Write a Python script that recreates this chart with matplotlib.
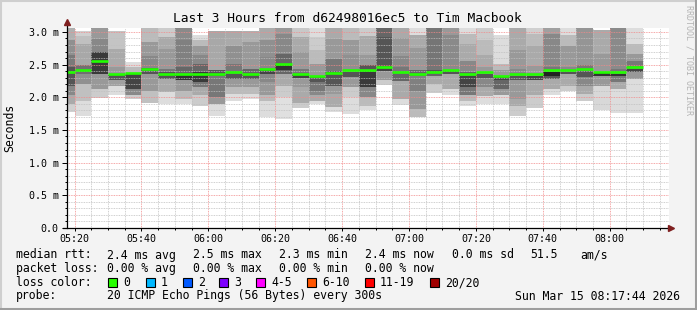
import matplotlib
matplotlib.use("Agg")
import matplotlib.pyplot as plt
import numpy as np
from matplotlib.patches import Rectangle
from matplotlib.lines import Line2D

plt.rcParams['font.family'] = 'DejaVu Sans Mono'

W, H = 697, 310

# time in minutes after 05:00, window 05:17:44 .. 08:17:44
t_start = 17 + 44 / 60
t_stop = t_start + 180
step = 5
bar_end = np.arange(20, 191, step)   # samples 05:20 .. 08:10

medians = [2.39, 2.42, 2.55, 2.36, 2.37, 2.43, 2.36, 2.36, 2.36, 2.36,
           2.38, 2.36, 2.44, 2.51, 2.36, 2.32, 2.37, 2.41, 2.41, 2.46,
           2.39, 2.35, 2.39, 2.41, 2.36, 2.39, 2.33, 2.35, 2.36, 2.41,
           2.41, 2.43, 2.39, 2.38, 2.46]

# smoke bands per sample: edges bottom -> top (ms) and grey shade of each band
smoke_edges = [
    [1.77, 1.90, 2.03, 2.18, 2.46, 2.64, 2.87, 3.10],
    [1.72, 1.95, 2.21, 2.36, 2.49, 2.82, 2.94, 3.02],
    [1.99, 2.13, 2.36, 2.69, 2.89, 3.10],
    [2.03, 2.18, 2.26, 2.34, 2.46, 2.74, 3.01],
    [1.98, 2.03, 2.13, 2.36, 2.46, 2.54],
    [1.91, 2.10, 2.36, 2.45, 2.63, 2.84, 3.10],
    [1.90, 2.08, 2.28, 2.38, 2.43, 2.74, 2.92, 3.10],
    [1.90, 1.98, 2.10, 2.26, 2.34, 2.46, 2.88, 3.10],
    [1.86, 2.03, 2.15, 2.23, 2.38, 2.51, 2.65, 2.78, 2.88, 2.95],
    [1.72, 1.90, 2.00, 2.33, 2.42, 3.02],
    [1.95, 2.05, 2.15, 2.28, 2.36, 2.51, 2.79, 3.02],
    [1.97, 2.05, 2.15, 2.28, 2.36, 2.44, 2.84, 3.02],
    [1.70, 1.95, 2.03, 2.23, 2.36, 2.42, 2.61, 2.87, 3.10],
    [1.67, 2.00, 2.18, 2.36, 2.41, 2.49, 2.66, 2.97, 3.10],
    [1.84, 1.92, 2.15, 2.30, 2.36, 2.43, 2.69, 2.92, 3.10],
    [1.90, 1.95, 2.03, 2.10, 2.23, 2.31, 2.51, 2.72, 2.92, 3.10],
    [1.78, 1.85, 2.05, 2.18, 2.40, 2.59, 2.89, 3.10],
    [1.75, 2.00, 2.15, 2.31, 2.39, 2.64, 2.87, 3.10],
    [1.80, 1.87, 2.00, 2.15, 2.39, 2.49, 2.64, 2.94, 3.10],
    [2.19, 2.27, 2.40, 2.44, 2.92, 3.10],
    [1.88, 1.98, 2.25, 2.36, 2.46, 2.63, 2.90, 3.10],
    [1.70, 1.82, 2.10, 2.33, 2.42, 2.75, 2.95, 3.10],
    [2.07, 2.20, 2.33, 2.37, 2.42, 3.10],
    [2.04, 2.12, 2.35, 2.40, 2.95, 3.10],
    [1.86, 1.95, 2.03, 2.15, 2.33, 2.38, 2.56, 2.82, 2.97, 3.10],
    [1.90, 2.02, 2.15, 2.30, 2.36, 2.46, 2.64, 2.87, 3.10],
    [1.90, 2.03, 2.12, 2.26, 2.31, 2.41, 2.51, 2.95],
    [1.71, 1.86, 1.98, 2.26, 2.33, 2.44, 2.72, 3.10],
    [1.84, 2.03, 2.26, 2.33, 2.48, 2.78, 2.97, 3.10],
    [2.04, 2.12, 2.28, 2.33, 2.39, 2.46, 2.97, 3.10],
    [2.10, 2.18, 2.36, 2.39, 2.46, 2.79, 2.95, 3.10],
    [1.95, 2.05, 2.18, 2.31, 2.40, 2.50, 3.10],
    [1.80, 2.18, 2.33, 2.37, 2.66, 3.03],
    [1.76, 2.13, 2.24, 2.33, 2.36, 2.43, 3.10],
    [1.76, 2.28, 2.38, 2.44, 2.56, 2.66, 2.82, 3.10],
]
smoke_shades = [
    ['d0', 'aa', '88', '55', '7a', '90', 'b0'],
    ['dd', 'c0', '90', '70', 'a8', 'c0', 'd0'],
    ['cc', '99', '3a', '88', '99'],
    ['dd', 'a0', '55', '99', 'aa', 'c4'],
    ['cc', '88', '44', 'bb', 'dd'],
    ['c0', '99', '55', '88', '99', 'bb'],
    ['dd', 'aa', '55', '77', '99', 'aa', 'cc'],
    ['dd', 'bb', '99', '33', '66', '80', '8a'],
    ['cc', 'aa', '77', '3a', '66', '88', '99', 'bb', 'dd'],
    ['dd', '99', '77', '55', 'a8'],
    ['dd', 'bb', '99', '55', '77', '90', 'aa'],
    ['dd', 'bb', '99', '55', '66', '99', 'b0'],
    ['dd', 'bb', '99', '88', '44', '88', '90', 'aa'],
    ['e0', 'cc', 'aa', '66', '33', '66', '88', '99'],
    ['cc', 'aa', '99', '44', '77', '99', 'aa', 'c8'],
    ['dd', 'aa', '88', '77', '55', '99', 'bb', 'cc', 'dd'],
    ['dd', 'aa', '99', '55', '77', '99', 'aa'],
    ['dd', 'cc', '99', '55', '90', '99', 'bb'],
    ['dd', 'bb', '88', '3a', '55', '99', 'aa', 'cc'],
    ['cc', '99', '44', '55', '66'],
    ['dd', 'aa', '66', '77', '88', '99', 'aa'],
    ['bb', '99', '80', '66', '99', 'aa', 'dd'],
    ['cc', 'aa', '66', '55', '75'],
    ['dd', 'aa', '55', '8a', '99'],
    ['dd', 'bb', '77', '44', '66', '88', 'aa', 'bb', 'dd'],
    ['dd', 'aa', '88', '55', '99', 'aa', 'bb', 'cc'],
    ['dd', '99', '66', '44', '99', 'bb', 'dd'],
    ['cc', 'aa', '99', '55', '88', '99', 'aa'],
    ['cc', 'aa', '44', '99', 'aa', 'bb', 'd0'],
    ['dd', 'aa', '55', '22', '77', '88', 'a0'],
    ['cc', 'aa', '55', '88', '99', 'bb', 'dd'],
    ['cc', 'aa', '88', '55', '77', '95'],
    ['d8', '99', '33', '99', 'aa'],
    ['dd', 'aa', '77', '33', '77', '8a'],
    ['dd', '99', '44', '77', '99', 'bb', 'dd'],
]

x_ticks = [20, 40, 60, 80, 100, 120, 140, 160, 180]
x_labels = ["05:20", "05:40", "06:00", "06:20", "06:40", "07:00", "07:20", "07:40", "08:00"]
y_ticks = [0.0, 0.5, 1.0, 1.5, 2.0, 2.5, 3.0]
y_labels = ["0.0", "0.5 m", "1.0 m", "1.5 m", "2.0 m", "2.5 m", "3.0 m"]

title = "Last 3 Hours from d62498016ec5 to Tim Macbook"
rtt_row = ["median rtt:", "2.4 ms avg", "2.5 ms max", "2.3 ms min", "2.4 ms now", "0.0 ms sd", "51.5", "am/s"]
rtt_x = [16, 107, 193, 279, 365, 452, 530, 580]
loss_row = ["packet loss:", "0.00 % avg", "0.00 % max", "0.00 % min", "0.00 % now"]
loss_x = [16, 107, 193, 279, 365]
loss_names = ["0", "1", "2", "3", "4-5", "6-10", "11-19", "20/20"]
loss_colors = ["#26ff00", "#00b8ff", "#0059ff", "#7e00ff", "#ff00ff", "#ff5500", "#ff0000", "#a10000"]
loss_box_x = [108, 146, 183, 219, 256, 307, 365, 430]
probe_text = "20 ICMP Echo Pings (56 Bytes) every 300s"
stamp = "Sun Mar 15 08:17:44 2026"


def fx(x):
    return x / W


def fy(y):
    return 1 - y / H


fig = plt.figure(figsize=(W / 100, H / 100), dpi=100, facecolor='#f3f3f3')
ax = fig.add_axes([fx(67), fy(228), 602 / W, 200 / H])
ax.set_facecolor('white')

# smoke
xs, hs, bs, cs = [], [], [], []
for x1, edges, shades in zip(bar_end, smoke_edges, smoke_shades):
    for lo, hi, s in zip(edges[:-1], edges[1:], shades):
        xs.append(x1 - step)
        bs.append(lo)
        hs.append(hi - lo)
        cs.append('#' + s * 3)
ax.bar(xs, hs, bottom=bs, width=step, align='edge', color=cs, linewidth=0, zorder=1)

# median
ax.hlines(medians, bar_end - step, bar_end, colors='#22ff00', lw=1.9, zorder=4)

ax.set_xlim(t_start, t_stop)
ax.set_ylim(0, 3.06)
ax.set_xticks(x_ticks)
ax.set_xticklabels(x_labels)
ax.set_xticks(np.arange(20, 196, 5), minor=True)
ax.set_yticks(y_ticks)
ax.set_yticklabels(y_labels)
ax.set_yticks(np.arange(0.1, 3.05, 0.1), minor=True)

dot = (0, (1, 1))
ax.grid(which='minor', color='#c0c0c0', linestyle=dot, lw=0.6, zorder=2)
ax.grid(which='major', color='#f28a8a', linestyle=dot, lw=0.6, zorder=3)
ax.set_axisbelow(False)

for s in ax.spines.values():
    s.set_visible(False)
ax.tick_params(axis='both', which='both', width=0.72, color='black', labelsize=7.2)
ax.tick_params(axis='x', which='major', length=2.5, pad=2)
ax.tick_params(axis='x', which='minor', length=1.5)
ax.tick_params(axis='y', which='major', length=3.5, pad=2.5)
ax.tick_params(axis='y', which='minor', length=1.5)

# axes with arrows
ax.plot([-4 / 602, 603 / 602], [0, 0], color='black', lw=0.9, transform=ax.transAxes, clip_on=False, zorder=5)
ax.plot([0, 0], [0, 205 / 200], color='black', lw=0.9, transform=ax.transAxes, clip_on=False, zorder=5)
ax.plot([604 / 602], [0], marker='>', ms=4, color='#7f1f1f', transform=ax.transAxes, clip_on=False, zorder=6)
ax.plot([0], [206 / 200], marker='^', ms=4, color='#7f1f1f', transform=ax.transAxes, clip_on=False, zorder=6)

fig.text(fx(347.5), fy(19), title, fontsize=9.3, ha='center', va='center')
fig.text(fx(10), fy(128), "Seconds", fontsize=8.3, rotation=90, ha='center', va='center')
fig.text(fx(689), fy(5), "RRDTOOL / TOBI OETIKER", fontsize=6, rotation=270,
         ha='center', va='top', color='#b4b4b4')

lfs = 8.3
for x, t in zip(rtt_x, rtt_row):
    fig.text(fx(x), fy(255), t, fontsize=lfs, ha='left', va='center')
for x, t in zip(loss_x, loss_row):
    fig.text(fx(x), fy(268.5), t, fontsize=lfs, ha='left', va='center')
fig.text(fx(16), fy(282.5), "loss color:", fontsize=lfs, ha='left', va='center')
for x, name, c in zip(loss_box_x, loss_names, loss_colors):
    fig.add_artist(Rectangle((fx(x), fy(286.7)), 8.5 / W, 8.5 / H, transform=fig.transFigure,
                             facecolor=c, edgecolor='black', lw=0.8))
    fig.text(fx(x + 15), fy(282.5), name, fontsize=lfs, ha='left', va='center')
fig.text(fx(16), fy(296), "probe:", fontsize=lfs, ha='left', va='center')
fig.text(fx(107), fy(296), probe_text, fontsize=lfs, ha='left', va='center')
fig.text(fx(680), fy(296), stamp, fontsize=lfs, ha='right', va='center')

# 3d border
fig.add_artist(Line2D([0, 1], [fy(0.5), fy(0.5)], color='#cfcfcf', lw=1.5, transform=fig.transFigure))
fig.add_artist(Line2D([fx(0.5), fx(0.5)], [0, 1], color='#cfcfcf', lw=1.5, transform=fig.transFigure))
fig.add_artist(Line2D([0, 1], [fy(308.5), fy(308.5)], color='#9e9e9e', lw=2.2, transform=fig.transFigure))
fig.add_artist(Line2D([fx(695.5), fx(695.5)], [0, 1], color='#9e9e9e', lw=2.2, transform=fig.transFigure))

fig.savefig('out.png', dpi=100, facecolor=fig.get_facecolor())
